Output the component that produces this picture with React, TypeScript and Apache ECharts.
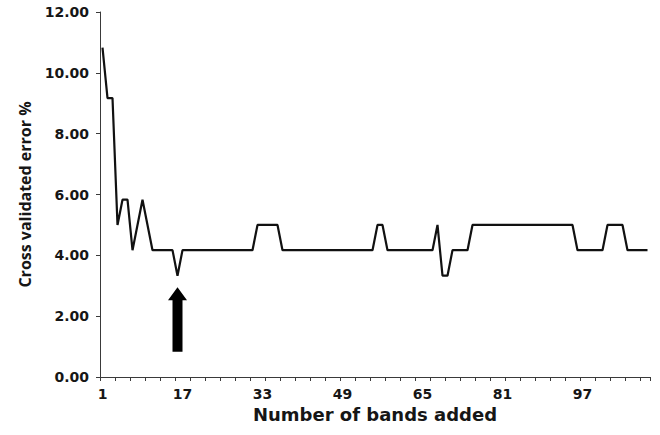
import React, { useEffect, useRef } from "react";
import * as echarts from "echarts";

const bandCount = 110;
const categories: string[] = Array.from({ length: bandCount }, (_, i) => String(i + 1));

const errorPct: number[] = [
  10.83, 9.17, 9.17, 5.0, 5.83, 5.83, 4.17, 5.0, 5.83, 5.0,
  4.17, 4.17, 4.17, 4.17, 4.17, 3.33, 4.17, 4.17, 4.17, 4.17,
  4.17, 4.17, 4.17, 4.17, 4.17, 4.17, 4.17, 4.17, 4.17, 4.17,
  4.17, 5.0, 5.0, 5.0, 5.0, 5.0, 4.17, 4.17, 4.17, 4.17,
  4.17, 4.17, 4.17, 4.17, 4.17, 4.17, 4.17, 4.17, 4.17, 4.17,
  4.17, 4.17, 4.17, 4.17, 4.17, 5.0, 5.0, 4.17, 4.17, 4.17,
  4.17, 4.17, 4.17, 4.17, 4.17, 4.17, 4.17, 5.0, 3.33, 3.33,
  4.17, 4.17, 4.17, 4.17, 5.0, 5.0, 5.0, 5.0, 5.0, 5.0,
  5.0, 5.0, 5.0, 5.0, 5.0, 5.0, 5.0, 5.0, 5.0, 5.0,
  5.0, 5.0, 5.0, 5.0, 5.0, 4.17, 4.17, 4.17, 4.17, 4.17,
  4.17, 5.0, 5.0, 5.0, 5.0, 4.17, 4.17, 4.17, 4.17, 4.17,
];

// Arrow annotation (points at band 16, the minimum)
const arrowBandIndex = 15;
const arrowTipValue = 2.95;
const arrowBaseValue = 0.83;

const WIDE_FONT = "'DejaVu Sans', 'Open Sans', sans-serif";
const FONT = "'Open Sans', 'Liberation Sans', sans-serif";
const TEXT_COLOR = "#161616";

export default function App() {
  const ref = useRef<HTMLDivElement>(null);

  useEffect(() => {
    if (!ref.current) return;
    const chart = echarts.init(ref.current, undefined, { renderer: "svg" });
    chart.setOption({
      animation: false,
      backgroundColor: "#ffffff",
      grid: { left: 100, right: 10, top: 12, bottom: 58, containLabel: false },
      xAxis: {
        type: "category",
        data: categories,
        boundaryGap: true,
        name: "Number of bands added",
        nameLocation: "middle",
        nameGap: 26,
        nameTextStyle: { fontFamily: WIDE_FONT, fontWeight: "bold", fontSize: 18, color: TEXT_COLOR },
        axisLine: { lineStyle: { color: "#3a3a3a", width: 1 } },
        axisTick: { show: true, interval: 2, length: 4, inside: false, lineStyle: { color: "#3a3a3a" } },
        axisLabel: {
          interval: 15,
          margin: 10,
          fontFamily: WIDE_FONT,
          fontWeight: "bold",
          fontSize: 14,
          color: TEXT_COLOR,
        },
        splitLine: { show: false },
      },
      yAxis: {
        type: "value",
        min: 0,
        max: 12,
        interval: 2,
        name: "Cross validated error %",
        nameLocation: "middle",
        nameGap: 67,
        nameRotate: 90,
        nameTextStyle: { fontFamily: FONT, fontWeight: "bold", fontSize: 16, color: TEXT_COLOR },
        axisLine: { show: true, lineStyle: { color: "#3a3a3a", width: 1 } },
        axisTick: { show: true, length: 4, lineStyle: { color: "#3a3a3a" } },
        axisLabel: {
          margin: 11,
          fontFamily: WIDE_FONT,
          fontWeight: "bold",
          fontSize: 14,
          color: TEXT_COLOR,
          formatter: (v: number) => v.toFixed(2),
        },
        splitLine: { show: false },
      },
      series: [
        {
          type: "line",
          data: errorPct,
          symbol: "none",
          lineStyle: { color: "#111111", width: 2.2 },
        },
      ],
    });

    const tip = chart.convertToPixel({ xAxisIndex: 0, yAxisIndex: 0 }, [arrowBandIndex, arrowTipValue]) as number[];
    const base = chart.convertToPixel({ xAxisIndex: 0, yAxisIndex: 0 }, [arrowBandIndex, arrowBaseValue]) as number[];
    if (tip && base) {
      const cx = tip[0];
      const headH = 13;
      const headHalf = 9.5;
      const shaftHalf = 5;
      chart.setOption({
        graphic: [
          {
            type: "polygon",
            shape: {
              points: [
                [cx, tip[1]],
                [cx + headHalf, tip[1] + headH],
                [cx + shaftHalf, tip[1] + headH],
                [cx + shaftHalf, base[1]],
                [cx - shaftHalf, base[1]],
                [cx - shaftHalf, tip[1] + headH],
                [cx - headHalf, tip[1] + headH],
              ],
            },
            style: { fill: "#000000" },
            z: 10,
          },
        ],
      });
    }

    return () => chart.dispose();
  }, []);

  return (
    <div
      ref={ref}
      style={{ position: "absolute", left: 0, top: 0, width: 660, height: 435, background: "#fff" }}
    />
  );
}
